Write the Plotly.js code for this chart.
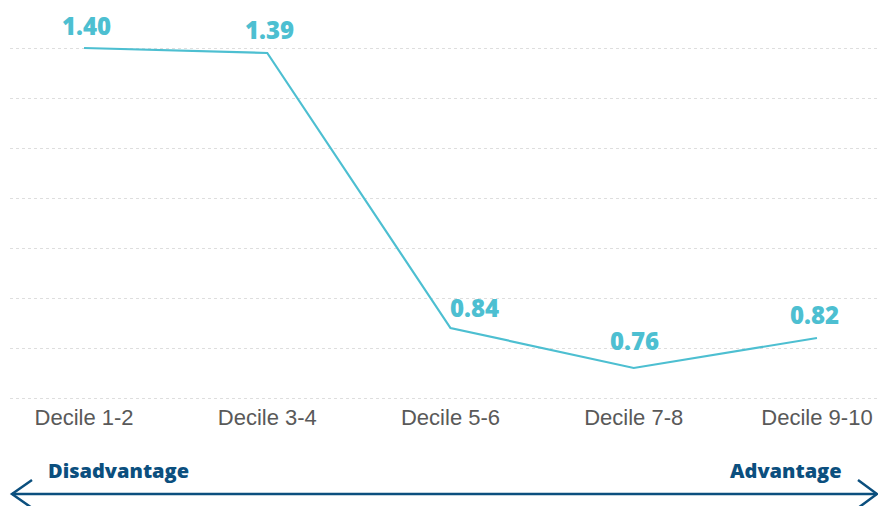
<!DOCTYPE html>
<html>
<head>
<meta charset="utf-8">
<script src="https://cdn.plot.ly/plotly-3.0.1.min.js"></script>
<style>html,body{margin:0;padding:0;background:#fff;}#chart{width:878px;height:506px;}</style>
</head>
<body>
<div id="chart"></div>
<script>
const categories = ["Decile 1-2", "Decile 3-4", "Decile 5-6", "Decile 7-8", "Decile 9-10"];
const values = [1.40, 1.39, 0.84, 0.76, 0.82];
const valueLabels = ["1.40", "1.39", "0.84", "0.76", "0.82"];
const leftLabel = "Disadvantage";
const rightLabel = "Advantage";

const lineColor = "#4dbfd1";
const darkBlue = "#0b4f7e";

const labelShifts = [[2, 23], [2, 24], [24, 21], [1, 28], [-2, 24]];

const annotations = values.map((v, i) => ({
  x: categories[i], y: v, xref: "x", yref: "y",
  text: valueLabels[i], showarrow: false,
  xanchor: "center", yanchor: "middle",
  xshift: labelShifts[i][0], yshift: labelShifts[i][1],
  font: {family: "Open Sans", size: 24, color: lineColor, weight: 800}
}));

// plot area: l=10, width 868; t=8, height 392
const pw = 868, ph = 392, mt = 8;
const px = x => (x - 10) / pw;
const py = y => (mt + ph - y) / ph;

annotations.push({
  x: px(46), y: py(470), xref: "paper", yref: "paper", xanchor: "left", yanchor: "middle",
  text: leftLabel, showarrow: false,
  font: {family: "Open Sans", size: 20, color: darkBlue, weight: 800}
});
annotations.push({
  x: px(844), y: py(470), xref: "paper", yref: "paper", xanchor: "right", yanchor: "middle",
  text: rightLabel, showarrow: false,
  font: {family: "Open Sans", size: 20, color: darkBlue, weight: 800}
});

const ay = 494;
const shapes = [
  {type: "line", xref: "paper", yref: "paper", x0: px(12), x1: px(877), y0: py(ay), y1: py(ay),
   line: {color: darkBlue, width: 2.5}},
  {type: "path", xref: "paper", yref: "paper",
   path: `M ${px(32)} ${py(480)} L ${px(12)} ${py(ay)} L ${px(32)} ${py(508)}`,
   line: {color: darkBlue, width: 2.5}},
  {type: "path", xref: "paper", yref: "paper",
   path: `M ${px(858)} ${py(480)} L ${px(877)} ${py(ay)} L ${px(858)} ${py(508)}`,
   line: {color: darkBlue, width: 2.5}}
];

const trace = {
  x: categories, y: values, type: "scatter", mode: "lines",
  line: {color: lineColor, width: 2.2}, hoverinfo: "skip"
};

const layout = {
  width: 878, height: 506,
  margin: {l: 10, r: 0, t: mt, b: 506 - mt - ph},
  paper_bgcolor: "#fff", plot_bgcolor: "#fff",
  showlegend: false,
  xaxis: {type: "category", range: [-0.404, 4.333], showgrid: false, zeroline: false,
          showline: false, ticks: "", ticklabelstandoff: 2,
          tickfont: {family: "Liberation Sans", size: 22, color: "#595959"}},
  yaxis: {range: [0.696, 1.48], dtick: 0.1, tick0: 0.7, showticklabels: false, zeroline: false,
          showgrid: true, gridcolor: "#dedede", griddash: "dot", gridwidth: 1, showline: false},
  annotations: annotations,
  shapes: shapes
};

Plotly.newPlot("chart", [trace], layout, {displayModeBar: false, staticPlot: true});
</script>
</body>
</html>
